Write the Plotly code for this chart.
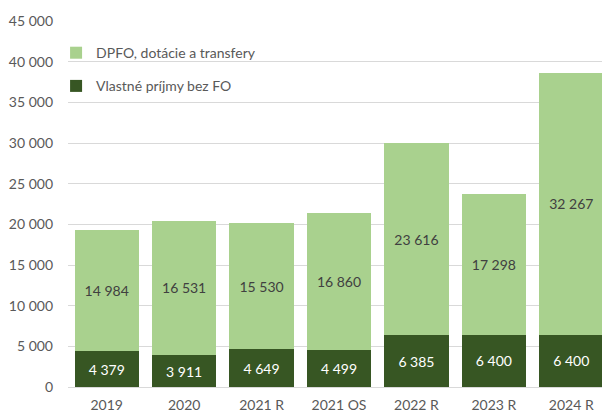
import plotly.graph_objects as go

categories = ["2019", "2020", "2021 R", "2021 OS", "2022 R", "2023 R", "2024 R"]
vlastne = [4379, 3911, 4649, 4499, 6385, 6400, 6400]
dpfo = [14984, 16531, 15530, 16860, 23616, 17298, 32267]
tick_vals = [0, 5000, 10000, 15000, 20000, 25000, 30000, 35000, 40000, 45000]

FONT = "Lato"
fig = go.Figure()
fig.add_trace(go.Bar(
    x=categories, y=vlastne, name="Vlastné príjmy bez FO",
    marker=dict(color="#375623", line=dict(width=0)),
    texttemplate="%{y:,.0f}", textposition="inside", insidetextanchor="middle",
    textangle=0, constraintext="none",
    textfont=dict(color="white", size=14, family=FONT),
    legendgroup="a", legendrank=2,
))
fig.add_trace(go.Bar(
    x=categories, y=dpfo, name="DPFO, dotácie a transfery",
    marker=dict(color="#a9d18e", line=dict(width=0)),
    texttemplate="%{y:,.0f}", textposition="inside", insidetextanchor="middle",
    textangle=0, constraintext="none",
    textfont=dict(color="#404040", size=14, family=FONT),
    legendgroup="b", legendrank=1,
))

fig.update_layout(
    barmode="stack", bargap=0.17,
    width=602, height=405,
    margin=dict(l=60, r=0, t=13, b=26),
    plot_bgcolor="white", paper_bgcolor="white",
    separators=", ",
    font=dict(family=FONT, size=14, color="#595959"),
    showlegend=True,
    legend=dict(
        x=-0.022, y=0.956, xanchor="left", yanchor="top",
        traceorder="grouped", tracegroupgap=12,
        bgcolor="rgba(0,0,0,0)",
        font=dict(family=FONT, size=14, color="#595959"),
    ),
    xaxis=dict(showgrid=False, showline=False, ticks="", tickfont=dict(size=14),
               ticklabelstandoff=8),
    yaxis=dict(
        range=[0, 45000], tickvals=tick_vals, tickformat=",",
        showgrid=True, gridcolor="#d9d9d9", gridwidth=1,
        zeroline=True, zerolinecolor="#d9d9d9", zerolinewidth=1,
        showline=False, ticks="", ticklabelstandoff=14,
        tickfont=dict(size=14),
    ),
)

fig.write_html("out.html")
